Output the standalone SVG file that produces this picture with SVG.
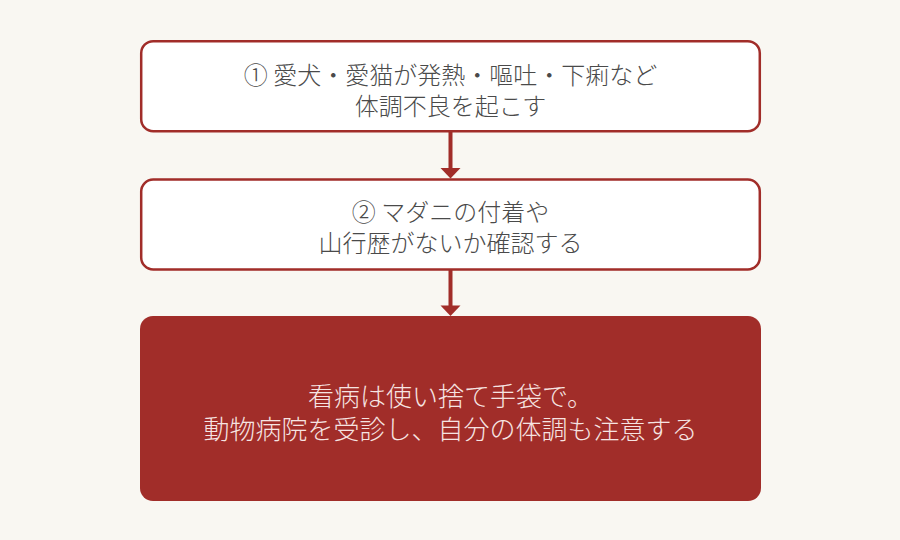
<svg xmlns="http://www.w3.org/2000/svg" width="900" height="540" viewBox="0 0 900 540">
<defs>
<style>
.bg{fill:#F9F7F2}
.box{fill:#FFFFFF;stroke:#A12D29;stroke-width:2.5}
.boxf{fill:#A12D29}
.t{font-family:"Noto Sans CJK JP","Noto Sans CJK SC",sans-serif;font-weight:200;font-size:24px;fill:#4A4A4A;text-anchor:middle}
.tw{font-family:"Noto Sans CJK JP","Noto Sans CJK SC",sans-serif;font-weight:200;font-size:26px;fill:#F6E4E2;text-anchor:middle}
.conn{stroke:#A12D29;stroke-width:4;fill:none}
.head{fill:#A12D29}
</style>
</defs>
<rect class="bg" x="0" y="0" width="900" height="540"/>
<g id="connectors">
<line class="conn" x1="450.5" y1="132" x2="450.5" y2="169"/>
<polygon class="head" points="440.5,168 460.5,168 450.5,178.5"/>
<line class="conn" x1="450.5" y1="270" x2="450.5" y2="306"/>
<polygon class="head" points="440.5,305.5 460.5,305.5 450.5,316"/>
</g>
<g id="node1">
<rect class="box" x="141.2" y="41.2" width="618.6" height="90" rx="12"/>
<text class="t"><tspan x="450.5" y="84">① 愛犬・愛猫が発熱・嘔吐・下痢など</tspan><tspan x="450.5" y="115">体調不良を起こす</tspan></text>
</g>
<g id="node2">
<rect class="box" x="141.2" y="179.5" width="618.6" height="90" rx="12"/>
<text class="t"><tspan x="450.5" y="221">② マダニの付着や</tspan><tspan x="450.5" y="252">山行歴がないか確認する</tspan></text>
</g>
<g id="node3">
<rect class="boxf" x="140" y="316" width="621" height="185" rx="13"/>
<text class="tw"><tspan x="450.5" y="406">看病は使い捨て手袋で。</tspan><tspan x="450.5" y="439">動物病院を受診し、自分の体調も注意する</tspan></text>
</g>
</svg>
